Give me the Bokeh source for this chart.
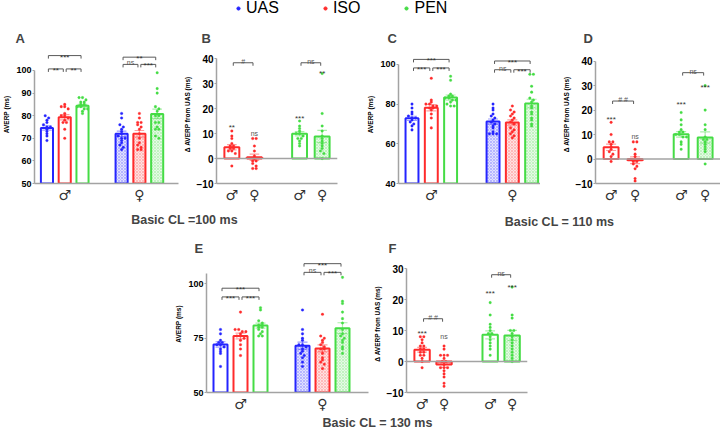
import numpy as np
from bokeh.plotting import figure
from bokeh.models import (Range1d, FixedTicker, Span, Legend, LegendItem, Label, Spacer)
from bokeh.layouts import column, row
from bokeh.embed import file_html
from bokeh.resources import INLINE
from bokeh.core.properties import value

# ---------------- data ----------------
SERIES = ["UAS", "ISO", "PEN"]
SEX_LABELS = ["\u2642", "\u2640"]

# Panel A  (Basic CL = 100 ms), AVERP (ms)
A_M_UAS = [80, 79, 78, 77, 76, 75, 75, 74, 73, 72, 71, 69]
A_M_ISO = [85, 84, 84, 83, 81, 80, 80, 79, 78, 77, 77, 74, 70]
A_M_PEN = [88, 88, 87, 86, 86, 85, 85, 84, 84, 83, 83, 82, 81]
A_F_UAS = [81, 79, 76, 75, 74, 73, 72, 71, 70, 70, 69, 68, 67, 66, 65]
A_F_ISO = [81, 79, 77, 77, 76, 75, 74, 72, 70, 68, 67, 66, 65, 65]
A_F_PEN = [99, 92, 90, 84, 83, 82, 80, 80, 77, 77, 75, 74, 74, 71, 70]
A_MEANS = [74.6, 79.3, 84.4, 72.0, 72.0, 80.8]

# Panel B  delta AVERP from UAS (ms)
B_M_ISO = [11, 9, 8, 6, 5, 5, 4, 4, 3, 3, 2, -3]
B_F_ISO = [8, 8, 5, 3, 1, 0, -1, -1, -2, -3, -4, -4]
B_M_PEN = [15, 13, 12, 11, 10, 10, 9, 8, 8, 7, 6, 5]
B_F_PEN = [34, 18, 13, 11, 9, 8, 7, 6, 5, 4, 3, 2, 0]
B_MEANS = [4.5, 0.5, 9.9, 8.8]

# Panel C  (Basic CL = 110 ms)
C_M_UAS = [80, 78, 76, 75, 74, 73, 73, 72, 71, 70, 69, 67]
C_M_ISO = [93, 82, 81, 80, 80, 79, 79, 78, 78, 77, 75, 73, 68]
C_M_PEN = [94, 92, 85, 84, 84, 83, 83, 82, 82, 81, 80, 79, 79]
C_F_UAS = [80, 78, 77, 75, 74, 73, 72, 71, 70, 69, 68, 66, 65, 65, 65]
C_F_ISO = [79, 77, 76, 75, 74, 73, 72, 71, 70, 68, 67, 66, 65, 64, 63]
C_F_PEN = [95, 95, 89, 86, 83, 82, 81, 79, 78, 76, 75, 73, 72, 70, 69]
C_MEANS = [72.8, 78.2, 83.3, 71.2, 70.7, 80.3]

# Panel D
D_M_ISO = [15, 10, 7, 7, 6, 5, 4, 3, 2, 1, 0, -1]
D_F_ISO = [7, 7, 4, 2, 1, 0, -1, -1, -2, -3, -4, -8, -9]
D_M_PEN = [19, 16, 14, 12, 11, 11, 10, 10, 9, 9, 7, 6, 4]
D_F_PEN = [30, 20, 14, 12, 9, 8, 8, 7, 6, 5, 4, 3, -2]
D_MEANS = [4.8, -0.5, 10.1, 8.8]

# Panel E  (Basic CL = 130 ms)
E_M_UAS = [79, 77, 74, 73, 73, 72, 72, 71, 70, 69, 68, 62]
E_M_ISO = [87, 79, 79, 78, 78, 77, 76, 76, 75, 74, 72, 70, 67]
E_M_PEN = [89, 88, 83, 82, 81, 81, 80, 80, 79, 78, 77, 76, 76]
E_F_UAS = [88, 79, 77, 75, 74, 72, 72, 71, 70, 69, 68, 67, 66, 64, 62]
E_F_ISO = [86, 76, 75, 74, 73, 72, 71, 70, 70, 68, 66, 65, 64, 63, 61]
E_F_PEN = [103, 92, 91, 87, 84, 82, 79, 77, 76, 75, 74, 73, 71, 70, 68]
E_MEANS = [72.1, 76.0, 80.8, 71.5, 70.3, 79.6]

# Panel F
F_M_ISO = [8, 8, 7, 6, 5, 5, 4, 4, 3, 3, 2, 2, 1, 0, -2]
F_F_ISO = [5, 4, 2, 2, 2, 1, 0, 0, -1, -2, -2, -2, -3, -4, -5, -7, -8]
F_M_PEN = [19, 15, 12, 11, 10, 9, 9, 8, 7, 6, 5, 4, 2]
F_F_PEN = [24, 15, 14, 10, 10, 9, 8, 7, 6, 5, 4, 3, 2, 1, 0]
F_MEANS = [3.8, -1.0, 8.6, 8.4]

# significance brackets: (group i, group j, level, label)
A_BRACKETS = [(0, 1, 100.7, "**"), (1, 2, 100.7, "**"), (0, 2, 106.6, "***"),
              (3, 4, 102.7, "ns"), (4, 5, 102.7, "***"), (3, 5, 105.9, "**")]
C_BRACKETS = [(0, 1, 98.2, "***"), (1, 2, 98.2, "***"), (0, 2, 102.5, "***"),
              (3, 4, 97.3, "ns"), (4, 5, 97.3, "***"), (3, 5, 101.7, "***")]
E_BRACKETS = [(0, 1, 94.0, "***"), (1, 2, 94.0, "***"), (0, 2, 98.0, "***"),
              (3, 4, 105.3, "ns"), (4, 5, 105.3, "***"), (3, 5, 109.3, "***")]
B_BRACKETS = [(0, 1, 38.3, "#"), (2, 3, 38.3, "ns")]
D_BRACKETS = [(0, 1, 23.7, "# #"), (2, 3, 35.3, "ns")]
F_BRACKETS = [(0, 1, 13.8, "# #"), (2, 3, 28.0, "ns")]

# labels above single bars (vs UAS): level, label
B_SIG_Y = [13.9, 10.8, 17.5, 35.5]
B_SIG = ["**", "ns", "***", "**"]
D_SIG_Y = [17.7, 10.1, 24.0, 31.0]
D_SIG = ["***", "ns", "***", "***"]
F_SIG_Y = [10.2, 8.6, 23.1, 25.3]
F_SIG = ["***", "ns", "***", "***"]

# ---------------- style ----------------
BLUE = "#2424ff"
RED = "#ff2b2b"
GREEN = "#45dc45"
AXIS = "#a3a3a3"
BRK = "#5a5a5a"
FONT = "Liberation Sans"
SYMFONT = "DejaVu Sans"

COL6 = [BLUE, RED, GREEN, BLUE, RED, GREEN]
HAT6 = [False, False, False, True, True, True]
COL4 = [RED, RED, GREEN, GREEN]
HAT4 = [False, True, False, True]


def swarm(vals, xc, ybin, dx):
    keys = [int(round(v / ybin)) for v in vals]
    counts = {}
    for k in keys:
        counts[k] = counts.get(k, 0) + 1
    seen = {}
    xs = []
    for k in keys:
        n = counts[k]
        i = seen.get(k, 0)
        seen[k] = i + 1
        xs.append(xc + (i - (n - 1) / 2.0) * dx)
    return xs


def panel(letter, w, h, borders, xr, yr, ybounds, yticks, xticks, xlabels, ylabel,
          pos, means, groups, colors, hatched, bw, base, brackets, sig=None, sig_y=None,
          zero=False, letter_dx=-12, tick_fs="9px", drop_px=3):
    l, r, t, b = borders
    p = figure(width=w, height=h, x_range=Range1d(*xr), y_range=Range1d(*yr),
               output_backend="svg", toolbar_location=None,
               min_border_left=l, min_border_right=r, min_border_top=t, min_border_bottom=b)
    p.outline_line_color = None
    p.grid.visible = False
    p.background_fill_color = "white"

    fw = w - l - r
    fh = h - t - b
    pxx = fw / (xr[1] - xr[0])
    pxy = fh / (yr[1] - yr[0])

    p.title.text = letter
    p.title.text_font = FONT
    p.title.text_font_size = "13px"
    p.title.text_font_style = "bold"
    p.title.align = "left"
    p.title.offset = letter_dx
    p.title.standoff = 0

    ya = p.yaxis[0]
    ya.ticker = FixedTicker(ticks=yticks)
    ya.bounds = ybounds
    ya.axis_line_color = AXIS
    ya.axis_line_width = 1.5
    ya.major_tick_line_color = AXIS
    ya.major_tick_out = 2
    ya.major_tick_in = 0
    ya.minor_tick_out = 0
    ya.minor_tick_in = 0
    ya.major_label_text_font = FONT
    ya.major_label_text_font_size = tick_fs
    ya.major_label_text_font_style = "bold"
    ya.major_label_text_color = "black"
    ya.major_label_standoff = 1
    ya.axis_label = ylabel
    ya.axis_label_text_font = FONT
    ya.axis_label_text_font_size = "6.5px"
    ya.axis_label_text_font_style = "bold"
    ya.axis_label_text_color = "black"
    ya.axis_label_standoff = 3

    xa = p.xaxis[0]
    xa.ticker = FixedTicker(ticks=xticks)
    xa.major_label_overrides = {float(k): v for k, v in zip(xticks, xlabels)}
    xa.bounds = xr
    xa.axis_line_color = AXIS
    xa.axis_line_width = 1.5
    xa.major_tick_out = 0
    xa.major_tick_in = 0
    xa.minor_tick_out = 0
    xa.minor_tick_in = 0
    xa.major_label_text_font = SYMFONT
    xa.major_label_text_font_size = "14px"
    xa.major_label_text_color = "#333333"
    xa.major_label_standoff = 3

    if zero:
        p.add_layout(Span(location=0, dimension="width", line_color=AXIS, line_width=1.5))

    # bars
    for x, m, c, hat in zip(pos, means, colors, hatched):
        if hat:
            p.vbar(x=[x], width=bw, bottom=base, top=[m], fill_color=c, fill_alpha=0.14,
                   hatch_pattern="diagonal_cross", hatch_color=c, hatch_alpha=0.38,
                   hatch_scale=3, hatch_weight=0.6, line_color=c, line_width=2)
        else:
            p.vbar(x=[x], width=bw, bottom=base, top=[m], fill_color="white",
                   line_color=c, line_width=2)

    # error bars (SEM) and points
    for x, m, c, vals in zip(pos, means, colors, groups):
        arr = np.asarray(vals, dtype=float)
        s = arr.std(ddof=1) / np.sqrt(len(arr))
        cap = 5.0 / pxx
        p.segment(x0=[x], y0=[m - s], x1=[x], y1=[m + s], line_color=c, line_alpha=0.45, line_width=1.2)
        p.segment(x0=[x - cap, x - cap], y0=[m - s, m + s], x1=[x + cap, x + cap], y1=[m - s, m + s],
                  line_color=c, line_alpha=0.45, line_width=1.2)
        xs = swarm(vals, x, 3.0 / pxy, 3.6 / pxx)
        p.scatter(x=xs, y=vals, size=2.6, marker="circle", fill_color=c, line_color=c,
                  line_width=0.3)

    # brackets
    drop = drop_px / pxy
    gap = 1.5 / pxx
    bx, by, tx, ty, tt = [], [], [], [], []
    for i, j, yv, lab in brackets:
        x0 = pos[i] + gap
        x1 = pos[j] - gap
        bx.append([x0, x0, x1, x1])
        by.append([yv - drop, yv, yv, yv - drop])
        tx.append((x0 + x1) / 2.0)
        ty.append(yv)
        tt.append(lab)
    p.multi_line(xs=bx, ys=by, line_color=BRK, line_width=1)
    star_t = [(x, y, s) for x, y, s in zip(tx, ty, tt) if "*" in s]
    other_t = [(x, y, s) for x, y, s in zip(tx, ty, tt) if "*" not in s]
    if star_t:
        p.text(x=[a[0] for a in star_t], y=[a[1] for a in star_t], text=[a[2] for a in star_t],
               text_font=value(FONT), text_font_size="8px", text_color="#333333",
               text_align="center", text_baseline="alphabetic", y_offset=1.5)
    if other_t:
        p.text(x=[a[0] for a in other_t], y=[a[1] for a in other_t], text=[a[2] for a in other_t],
               text_font=value(FONT), text_font_size="7px", text_color="#555555",
               text_align="center", text_baseline="alphabetic", y_offset=-1.5)

    if sig is not None:
        for x, yv, lab in zip(pos, sig_y, sig):
            if "*" in lab:
                p.text(x=[x], y=[yv], text=[lab], text_font=value(FONT), text_font_size="8px",
                       text_color="#333333", text_align="center", text_baseline="alphabetic",
                       y_offset=4)
            else:
                p.text(x=[x], y=[yv], text=[lab], text_font=value(FONT), text_font_size="7px",
                       text_color="#555555", text_align="center", text_baseline="alphabetic",
                       y_offset=2)
    return p


POS6_AC = [1, 2, 3, 5.2, 6.2, 7.2]
POS6_E = [1, 2, 3, 5.1, 6.1, 7.1]
POS4_B = [1, 2, 4, 5]
POS4_D = [1, 2, 3.92, 4.92]
POS4_F = [1, 2, 4.1, 5.1]
DYLAB = "\u0394 AVERP from UAS (ms)"

pA = panel("A", 180, 185, (28, 2, 25, 22), (0.3, 8.4), (50, 111.06), (50, 100),
           [50, 60, 70, 80, 90, 100], [2, 6.2], SEX_LABELS, "AVERP (ms)",
           POS6_AC, A_MEANS, [A_M_UAS, A_M_ISO, A_M_PEN, A_F_UAS, A_F_ISO, A_F_PEN],
           COL6, HAT6, 0.68, 50, A_BRACKETS, letter_dx=-19)

pB = panel("B", 180, 185, (31, 23, 25, 22), (0.32, 5.68), (-10, 45.2), (-10, 40),
           [-10, 0, 10, 20, 30, 40], POS4_B, SEX_LABELS * 2, DYLAB,
           POS4_B, B_MEANS, [B_M_ISO, B_F_ISO, B_M_PEN, B_F_PEN],
           COL4, HAT4, 0.66, 0, B_BRACKETS, B_SIG, B_SIG_Y, zero=True, letter_dx=-15,
           tick_fs="10px")

pC = panel("C", 180, 185, (38, 0, 25, 21), (0.3, 7.66), (40, 109.5), (40, 100),
           [40, 60, 80, 100], [2, 6.2], SEX_LABELS, "AVERP (ms)",
           POS6_AC, C_MEANS, [C_M_UAS, C_M_ISO, C_M_PEN, C_F_UAS, C_F_ISO, C_F_PEN],
           COL6, HAT6, 0.67, 40, C_BRACKETS, letter_dx=-11)

pD = panel("D", 180, 185, (55, 0, 25, 19), (0.35, 5.56), (-10, 46.4), (-10, 40),
           [-10, 0, 10, 20, 30, 40], POS4_D, SEX_LABELS * 2, DYLAB,
           POS4_D, D_MEANS, [D_M_ISO, D_F_ISO, D_M_PEN, D_F_PEN],
           COL4, HAT4, 0.62, 0, D_BRACKETS, D_SIG, D_SIG_Y, zero=True, letter_dx=-12,
           tick_fs="10px")

pE = panel("E", 200, 183, (36, 2, 23, 20), (0.3, 8.4), (50, 113.06), (50, 105),
           [50, 75, 100], [2, 6.1], SEX_LABELS, "AVERP (ms)",
           POS6_E, E_MEANS, [E_M_UAS, E_M_ISO, E_M_PEN, E_F_UAS, E_F_ISO, E_F_PEN],
           COL6, HAT6, 0.7, 50, E_BRACKETS, letter_dx=-12)

pF = panel("F", 180, 183, (33, 23, 23, 23), (0.29, 5.8), (-10, 34.2), (-10, 30),
           [-10, 0, 10, 20, 30], POS4_F, SEX_LABELS * 2, DYLAB,
           POS4_F, F_MEANS, [F_M_ISO, F_F_ISO, F_M_PEN, F_F_PEN],
           COL4, HAT4, 0.7, 0, F_BRACKETS, F_SIG, F_SIG_Y, zero=True, letter_dx=-18,
           tick_fs="10px")


def strip(h):
    s = figure(width=720, height=h, x_range=Range1d(0, 720), y_range=Range1d(0, h),
               output_backend="svg", toolbar_location=None, min_border=0)
    s.axis.visible = False
    s.grid.visible = False
    s.outline_line_color = None
    return s


# legend strip (legend glyphs come from off-screen one-point renderers)
lg = strip(20)
items = []
for name, c in zip(SERIES, [BLUE, RED, GREEN]):
    rr = lg.scatter(x=[-100], y=[-100], size=3, marker="circle", fill_color=c, line_color=c)
    items.append(LegendItem(label=name, renderers=[rr], index=0))
leg = Legend(items=items, orientation="horizontal", location=(234, 3),
             label_text_font=FONT, label_text_font_size="16px", label_text_color="black",
             glyph_width=8, glyph_height=16, label_height=16, label_standoff=4,
             spacing=42, padding=0, margin=0, border_line_color=None,
             background_fill_alpha=0)
lg.add_layout(leg)

mid = strip(27)
mid.add_layout(Label(x=184, y=13, text="Basic CL =100 ms", text_font=FONT, text_font_size="12.5px",
                     text_font_style="bold", text_align="center", text_baseline="middle"))
mid.add_layout(Label(x=559, y=11, text="Basic CL = 110 ms", text_font=FONT, text_font_size="12.5px",
                     text_font_style="bold", text_align="center", text_baseline="middle"))

bot = strip(15)
bot.add_layout(Label(x=377, y=7.5, text="Basic CL = 130 ms", text_font=FONT, text_font_size="12.5px",
                     text_font_style="bold", text_align="center", text_baseline="middle"))

layout = column(lg, row(pA, pB, pC, pD), mid, row(Spacer(width=170, height=183), pE, pF), bot)

open("out.html", "w").write(file_html(layout, INLINE))
